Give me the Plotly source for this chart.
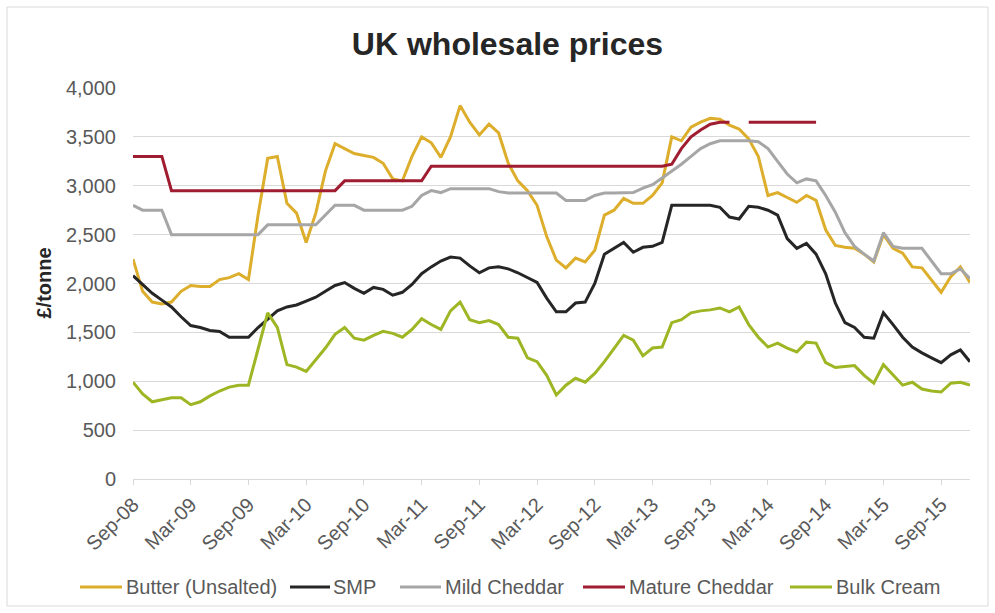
import pandas as pd
import plotly.graph_objects as go

# Monthly categories Sep-08 .. Dec-15
months = list(pd.date_range("2008-09-01", periods=88, freq="MS").strftime("%b-%y"))

tick_labels = ["Sep-08", "Mar-09", "Sep-09", "Mar-10", "Sep-10", "Mar-11", "Sep-11", "Mar-12",
               "Sep-12", "Mar-13", "Sep-13", "Mar-14", "Sep-14", "Mar-15", "Sep-15"]

series_names = ["Butter (Unsalted)", "SMP", "Mild Cheddar", "Mature Cheddar", "Bulk Cream"]

butter = [2250, 1920, 1810, 1790, 1810, 1920, 1980, 1970, 1970, 2040, 2060, 2100, 2040, 2700,
          3280, 3300, 2820, 2720, 2420, 2720, 3150, 3430, 3380, 3330, 3310, 3290, 3230, 3070,
          3050, 3300, 3500, 3440, 3290, 3500, 3820, 3650, 3520, 3630, 3540, 3230, 3050, 2950,
          2800, 2480, 2240, 2160, 2260, 2220, 2340, 2700, 2750, 2870, 2820, 2820, 2900, 3030,
          3500, 3460, 3600, 3650, 3690, 3680, 3620, 3580, 3480, 3300, 2900, 2930, 2880, 2830,
          2900, 2850, 2550, 2390, 2370, 2360, 2300, 2220, 2500, 2360, 2310, 2170, 2160, 2030,
          1910, 2070, 2170, 2010]

smp = [2080, 1990, 1900, 1830, 1760, 1660, 1570, 1550, 1520, 1510, 1450, 1450, 1450, 1550,
       1640, 1720, 1760, 1780, 1820, 1860, 1920, 1980, 2010, 1950, 1900, 1960, 1940, 1880,
       1910, 1990, 2100, 2170, 2230, 2270, 2260, 2180, 2110, 2160, 2170, 2150, 2110, 2060,
       2010, 1850, 1710, 1710, 1800, 1810, 2000, 2300, 2360, 2420, 2320, 2370, 2380, 2420,
       2800, 2800, 2800, 2800, 2800, 2780, 2680, 2660, 2790, 2780, 2750, 2700, 2460, 2360,
       2410, 2300, 2100, 1800, 1600, 1550, 1450, 1440, 1700, 1580, 1450, 1350, 1290, 1240,
       1190, 1270, 1320, 1200]

mild_cheddar = [2800, 2750, 2750, 2750, 2500, 2500, 2500, 2500, 2500, 2500, 2500, 2500, 2500, 2500,
                2600, 2600, 2600, 2600, 2600, 2600, 2700, 2800, 2800, 2800, 2750, 2750, 2750, 2750,
                2750, 2790, 2900, 2950, 2930, 2970, 2970, 2970, 2970, 2970, 2940, 2925, 2925, 2925,
                2925, 2925, 2925, 2850, 2850, 2850, 2900, 2925, 2925, 2925, 2930, 2975, 3010, 3080,
                3150, 3220, 3300, 3380, 3430, 3460, 3460, 3460, 3460, 3450, 3380, 3250, 3120, 3030,
                3070, 3050, 2900, 2730, 2520, 2380, 2300, 2230, 2520, 2380, 2360, 2360, 2360, 2230,
                2100, 2100, 2150, 2050]

mature_cheddar = [3300, 3300, 3300, 3300, 2950, 2950, 2950, 2950, 2950, 2950, 2950, 2950, 2950, 2950,
                  2950, 2950, 2950, 2950, 2950, 2950, 2950, 2950, 3050, 3050, 3050, 3050, 3050, 3050,
                  3050, 3050, 3050, 3200, 3200, 3200, 3200, 3200, 3200, 3200, 3200, 3200, 3200, 3200,
                  3200, 3200, 3200, 3200, 3200, 3200, 3200, 3200, 3200, 3200, 3200, 3200, 3200, 3200,
                  3220, 3380, 3500, 3570, 3630, 3650, 3650, None, 3650, 3650, 3650, 3650, 3650, 3650,
                  3650, 3650, None, None, None, None, None, None, None, None, None, None, None, None,
                  None, None, None, None]

bulk_cream = [990, 870, 790, 810, 830, 830, 760, 790, 850, 900, 940, 960, 960, 1330,
              1700, 1550, 1170, 1145, 1100, 1220, 1340, 1480, 1550, 1440, 1420, 1470, 1510, 1490,
              1450, 1530, 1640, 1580, 1530, 1720, 1810, 1630, 1600, 1620, 1580, 1450, 1440, 1240,
              1200, 1060, 860, 960, 1030, 990, 1080, 1200, 1340, 1470, 1420, 1260, 1340, 1350,
              1600, 1630, 1700, 1720, 1730, 1750, 1710, 1760, 1580, 1450, 1350, 1390, 1340, 1300,
              1400, 1390, 1190, 1140, 1150, 1160, 1060, 980, 1170, 1060, 960, 990, 920, 900,
              890, 980, 990, 960]

series_values = [butter, smp, mild_cheddar, mature_cheddar, bulk_cream]
series_colors = ["#DDAE2C", "#262626", "#A6A6A6", "#A01C30", "#9DB623"]

FONT = "Arial, 'Liberation Sans', sans-serif"

# layout geometry (pixels)
W, H = 995, 613
L, R, T, B = 133, 25, 88, 134
PW, PH = W - L - R, H - T - B


def px_x(px):
    return (px - L) / PW


def px_y(py):
    return (H - B - py) / PH


fig = go.Figure()
for name, vals, color in zip(series_names, series_values, series_colors):
    fig.add_trace(go.Scatter(x=months, y=vals, mode="lines", name=name,
                             line=dict(color=color, width=3), connectgaps=False,
                             showlegend=False))

fig.update_layout(
    width=W, height=H,
    paper_bgcolor="white", plot_bgcolor="white",
    margin=dict(l=L, r=R, t=T, b=B),
    font=dict(family=FONT, color="#595959"),
    title=dict(text="<b>UK wholesale prices</b>", x=0.51, xref="container", xanchor="center",
               y=1 - 44 / H, yref="container", yanchor="middle",
               font=dict(size=32, color="#262626", family=FONT)),
    showlegend=False,
)

fig.update_xaxes(type="category", categoryorder="array", categoryarray=months,
                 range=[0, len(months) - 1],
                 tickmode="array", tickvals=tick_labels, ticktext=tick_labels,
                 tickangle=-45, tickfont=dict(size=20, color="#595959"),
                 showgrid=False, showline=True, linecolor="#D9D9D9", linewidth=1,
                 ticks="outside", ticklen=5, tickcolor="#D9D9D9", zeroline=False)

fig.update_yaxes(range=[0, 4000], dtick=500, tickformat=",d",
                 tickfont=dict(size=20, color="#595959"),
                 showgrid=True, gridcolor="#D9D9D9", gridwidth=1,
                 zeroline=False, showline=False, ticklabelstandoff=16)

fig.add_annotation(text="<b>£/tonne</b>", textangle=-90, xref="paper", yref="paper",
                   x=px_x(43), y=0.5, xanchor="center", yanchor="middle",
                   showarrow=False, font=dict(size=20, color="#262626", family=FONT))

# legend drawn as line samples + text
legend_line_x = [(80, 122), (290, 330), (400, 441), (583, 625), (790, 832)]
legend_text_x = [124, 331, 443, 627, 834]
legend_y = 587
for name, color, (x0, x1), tx in zip(series_names, series_colors, legend_line_x, legend_text_x):
    fig.add_shape(type="line", xref="paper", yref="paper",
                  x0=px_x(x0), x1=px_x(x1), y0=px_y(legend_y), y1=px_y(legend_y),
                  line=dict(color=color, width=3))
    fig.add_annotation(text=name, xref="paper", yref="paper", x=px_x(tx), y=px_y(legend_y),
                       xanchor="left", yanchor="middle", showarrow=False,
                       font=dict(size=20, color="#595959", family=FONT))

# light chart-area frame
fig.add_shape(type="rect", xref="paper", yref="paper",
              x0=px_x(7), x1=px_x(988), y0=px_y(606), y1=px_y(7),
              line=dict(color="#D9D9D9", width=1), fillcolor="rgba(0,0,0,0)", layer="below")

fig.write_html("out.html")
